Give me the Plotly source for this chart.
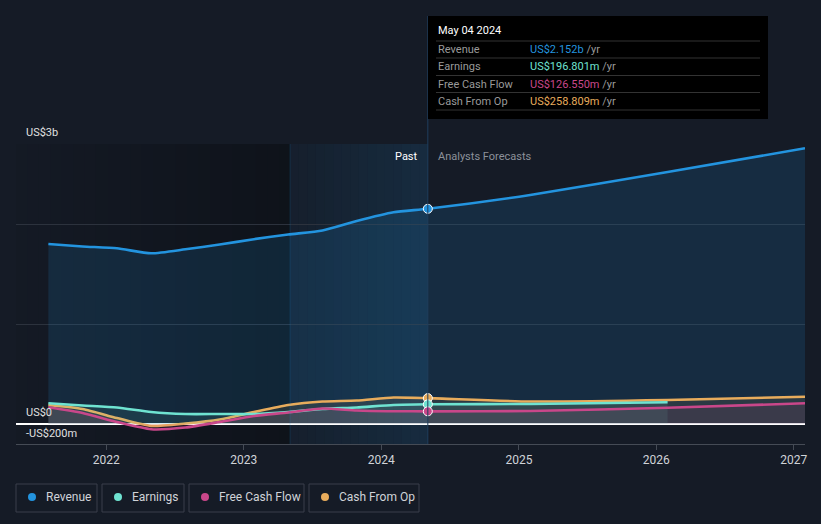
import plotly.graph_objects as go
import pandas as pd

# ---------------- data (US$ billions) ----------------
past_dates = ["2021-07-31", "2021-10-30", "2022-01-29", "2022-04-30", "2022-07-30",
              "2022-10-29", "2023-01-28", "2023-04-29", "2023-07-29", "2023-10-28",
              "2024-02-03", "2024-05-04"]
fc_dates = ["2024-05-04", "2025-01-31", "2026-01-31", "2027-01-31"]
earn_fc_dates = ["2024-05-04", "2025-01-31", "2026-01-31"]

revenue_past = [1.80, 1.775, 1.757, 1.707, 1.747, 1.795, 1.848, 1.895, 1.935, 2.03, 2.117, 2.152]
revenue_fc = [2.152, 2.29, 2.52, 2.757]
earnings_past = [0.207, 0.185, 0.165, 0.12, 0.10, 0.10, 0.10, 0.12, 0.15, 0.165, 0.19, 0.1968]
earnings_fc = [0.1968, 0.20, 0.217]
fcf_past = [0.167, 0.11, 0.02, -0.053, -0.035, 0.02, 0.08, 0.115, 0.155, 0.135, 0.128, 0.1266]
fcf_fc = [0.1266, 0.13, 0.163, 0.207]
cfo_past = [0.19, 0.15, 0.06, -0.02, 0.005, 0.045, 0.12, 0.19, 0.225, 0.235, 0.265, 0.2588]
cfo_fc = [0.2588, 0.225, 0.24, 0.273]

current_date = "2024-05-04"
band_start = "2023-05-04"
x_range = ["2021-05-06", "2027-01-31"]
y_range = [-0.2, 2.8]

tick_years = ["2022", "2023", "2024", "2025", "2026", "2027"]
tooltip_title = "May 04 2024"
tooltip_rows = [("Revenue", "US$2.152b"), ("Earnings", "US$196.801m"),
                ("Free Cash Flow", "US$126.550m"), ("Cash From Op", "US$258.809m")]
legend_names = ["Revenue", "Earnings", "Free Cash Flow", "Cash From Op"]

# ---------------- style ----------------
C_REV = "#2394DF"
C_EARN = "#6FE3D1"
C_FCF = "#C9478A"
C_CFO = "#E8AC5C"
BG = "#151B26"
FONT = "Roboto"

W, H = 821, 524
ML, MR, MT, MB = 16, 16, 144, 80
PW, PH = W - ML - MR, H - MT - MB


def xp(px):
    return (px - ML) / PW


def yp(py):
    return (H - MB - py) / PH


def rgba(hex_c, a):
    h = hex_c.lstrip("#")
    r, g, b = int(h[0:2], 16), int(h[2:4], 16), int(h[4:6], 16)
    return f"rgba({r},{g},{b},{a})"


fig = go.Figure()

series = [
    ("Revenue", past_dates + fc_dates[1:], revenue_past + revenue_fc[1:], C_REV, 0.15),
    ("Cash From Op", past_dates + fc_dates[1:], cfo_past + cfo_fc[1:], C_CFO, 0.10),
    ("Earnings", past_dates + earn_fc_dates[1:], earnings_past + earnings_fc[1:], C_EARN, 0.10),
    ("Free Cash Flow", past_dates + fc_dates[1:], fcf_past + fcf_fc[1:], C_FCF, 0.10),
]
for name, xs, ys, col, a in series:
    fig.add_trace(go.Scatter(
        x=xs, y=ys, mode="lines", name=name,
        line=dict(color=col, width=2.6, shape="spline", smoothing=0.6),
        fill="tozeroy", fillcolor=rgba(col, a), hoverinfo="skip", showlegend=False))

# current-point markers
cur_vals = [(revenue_past[-1], C_REV), (cfo_past[-1], C_CFO),
            (earnings_past[-1], C_EARN), (fcf_past[-1], C_FCF)]
for v, col in cur_vals:
    fig.add_trace(go.Scatter(
        x=[current_date], y=[v], mode="markers",
        marker=dict(size=9, color=col, line=dict(color="white", width=1)),
        hoverinfo="skip", showlegend=False))

shapes = []
# dark gradient past region
t0 = pd.Timestamp(x_range[0])
t1 = pd.Timestamp(band_start)
n = 24
for i in range(n):
    a0 = t0 + (t1 - t0) * i / n
    a1 = t0 + (t1 - t0) * (i + 1) / n
    shapes.append(dict(type="rect", xref="x", yref="paper", x0=a0, x1=a1, y0=0, y1=1,
                       fillcolor=f"rgba(0,0,0,{0.02 + 0.28 * (i + 0.5) / n:.3f})",
                       line=dict(width=0), layer="below"))
# highlighted past year band
t2 = pd.Timestamp(current_date)
m = 16
for i in range(m):
    a0 = t1 + (t2 - t1) * i / m
    a1 = t1 + (t2 - t1) * (i + 1) / m
    shapes.append(dict(type="rect", xref="x", yref="paper", x0=a0, x1=a1, y0=0, y1=1,
                       fillcolor=rgba(C_REV, round(0.04 + 0.10 * (i + 0.5) / m, 3)),
                       line=dict(width=0), layer="below"))
# vertical lines
shapes.append(dict(type="line", xref="x", yref="paper", x0=band_start, x1=band_start,
                   y0=0, y1=1, line=dict(color="rgba(35,148,223,0.18)", width=1)))
shapes.append(dict(type="line", xref="x", yref="paper", x0=current_date, x1=current_date,
                   y0=0, y1=yp(16), line=dict(color="#1F3E5C", width=1)))

# tooltip box
shapes.append(dict(type="rect", xref="paper", yref="paper", x0=xp(428), x1=xp(768),
                   y0=yp(119), y1=yp(16), fillcolor="#000000", line=dict(width=0)))
for ly in [41, 58, 75.5, 92.5, 110]:
    shapes.append(dict(type="line", xref="paper", yref="paper", x0=xp(436), x1=xp(760),
                       y0=yp(ly), y1=yp(ly), line=dict(color="#333333", width=1)))

annotations = []


def txt(x, y, s, color, size=11, anchor="left"):
    annotations.append(dict(xref="paper", yref="paper", x=xp(x), y=yp(y), text=s,
                            showarrow=False, xanchor=anchor, yanchor="middle",
                            font=dict(family=FONT, size=size, color=color)))


txt(436, 31, tooltip_title, "#FFFFFF", 11)
row_cols = [C_REV, C_EARN, C_FCF, C_CFO]
for (lab, val), ry, col in zip(tooltip_rows, [49, 66, 84, 101], row_cols):
    txt(436, ry, lab, "#9A9A9A", 11)
    txt(528, ry, f'<span style="color:{col}">{val}</span> /yr', "#9A9A9A", 11)

# y labels
txt(24, 132, "US$3b", "#E0E0E0", 11)
txt(24, 412, "US$0", "#E0E0E0", 11)
txt(24, 433, "-US$200m", "#E0E0E0", 11)
# past / forecast
txt(420, 156, "Past", "#FFFFFF", 11, "right")
txt(436, 156, "Analysts Forecasts", "#8C919A", 11)

# legend boxes
boxes = [(16, 97), (102, 184), (189, 304), (309, 419)]
for (bx0, bx1), nm, col in zip(boxes, legend_names, row_cols):
    shapes.append(dict(type="rect", xref="paper", yref="paper", x0=xp(bx0), x1=xp(bx1),
                       y0=yp(512), y1=yp(484), line=dict(color="#3A3F4A", width=1),
                       fillcolor="rgba(0,0,0,0)"))
    cx = bx0 + 16
    shapes.append(dict(type="circle", xref="paper", yref="paper", x0=xp(cx - 4), x1=xp(cx + 4),
                       y0=yp(501), y1=yp(493), fillcolor=col, line=dict(width=0)))
    txt(cx + 12, 497, nm, "#D0D3D8", 12)

fig.update_layout(
    width=W, height=H, margin=dict(l=ML, r=MR, t=MT, b=MB),
    paper_bgcolor=BG, plot_bgcolor=BG, showlegend=False,
    shapes=shapes, annotations=annotations,
    font=dict(family=FONT, color="#D0D3D8"),
    xaxis=dict(type="date", range=x_range, showgrid=False, zeroline=False,
               tickvals=[f"{y}-01-01" for y in tick_years], ticktext=tick_years,
               ticks="outside", ticklen=5, tickcolor="#454B55",
               showline=True, linecolor="#454B55", linewidth=1,
               tickfont=dict(family=FONT, size=12, color="#D0D3D8")),
    yaxis=dict(range=y_range, showticklabels=False, tickvals=[1, 2, 2.8],
               showgrid=True, gridcolor="#2C323D", gridwidth=1,
               zeroline=True, zerolinecolor="#FFFFFF", zerolinewidth=1.5,
               fixedrange=True),
)

fig.write_html("out.html", config={"displayModeBar": False},
               post_script=f"document.body.style.margin='0';document.body.style.background='{BG}';")
